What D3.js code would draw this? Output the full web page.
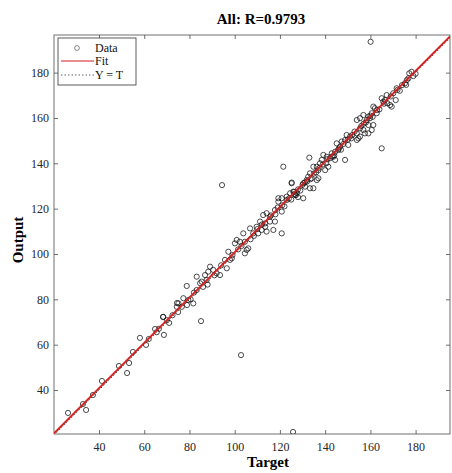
<!DOCTYPE html>
<html>
<head>
<meta charset="utf-8">
<script src="https://cdn.jsdelivr.net/npm/d3@7"></script>
<style>
  body { margin: 0; background: #fff; }
  svg text { font-family: "Liberation Serif", "Times New Roman", serif; }
</style>
</head>
<body>
<div id="chart"></div>
<script>
// regression plot data
const targets = [
  26.3, 32.9, 34.3, 37.3, 41.3, 48.8, 52.4, 53.3, 55.0, 58.1, 60.8, 64.8, 65.5, 68.3, 68.7, 71.0, 74.5, 75.0, 78.9, 85.1,
  68.4, 75.1, 76.6, 74.4, 77.3, 79.5, 81.7, 78.8, 83.2, 84.7, 85.4, 87.6, 86.9, 88.3, 89.1, 90.5, 83.2, 92.0, 93.5, 95.7,
  97.9, 98.7, 96.5, 97.2, 100.1, 100.9, 102.3, 104.5, 106.0, 104.5, 105.3, 103.8, 106.8, 108.2, 109.7, 110.4, 111.9, 114.1, 117.1, 120.8,
  111.2, 113.4, 112.6, 115.6, 115.6, 117.8, 114.1, 117.8, 120.8, 119.3, 123.0, 125.2, 126.2, 127.1, 128.0, 94.4, 102.8,
  119.3, 120.8, 123.0, 124.5, 125.9, 126.7, 125.2, 130.3, 131.1, 130.3, 133.3, 134.8, 131.8, 132.5, 134.0, 133.3, 134.8, 136.3, 136.3, 137.0,
  133.0, 121.5, 137.7, 137.0, 138.5, 140.0, 139.2, 140.7, 141.4, 142.1, 143.6, 142.9, 144.4, 144.4, 145.8, 145.1, 146.6, 148.8, 147.3, 148.8,
  149.5, 151.0, 150.2, 154.0, 154.7, 155.4, 154.0, 155.4, 156.9, 157.6, 159.1, 154.0, 155.4, 156.9, 158.4, 159.8, 159.1, 159.1, 161.3, 160.6,
  161.3, 162.0, 160.6, 162.8, 165.0, 165.7, 166.5, 167.2, 168.7, 171.2, 169.4, 170.1, 171.6, 175.3, 176.1, 176.8, 175.8, 177.2, 178.2, 165.0,
  160.1, 125.8,
  62.0, 66.5, 70.0, 72.5, 80.5, 82.0, 86.0, 88.0, 91.0, 94.0, 99.0, 101.5, 103.0, 107.0, 108.5, 110.0, 112.0, 113.5, 116.0, 118.0,
  119.0, 121.0, 122.0, 124.0, 125.0, 126.5, 127.5, 128.0, 129.0, 130.0, 131.0, 132.0, 133.5, 135.0, 136.0, 137.5, 139.0, 140.5, 141.0, 143.0,
  144.0, 146.0, 147.0, 148.0, 150.0, 151.5, 152.0, 153.0, 156.0, 157.0, 158.0, 160.0, 161.0, 163.0, 164.0, 166.0, 167.5, 169.0, 172.0, 173.0,
  174.0, 179.0, 180.0
];
const outputs = [
  29.9, 33.8, 31.2, 37.8, 44.0, 50.6, 47.5, 51.9, 56.8, 63.0, 59.9, 66.9, 65.5, 72.2, 64.3, 69.6, 78.4, 74.4, 77.5, 70.4,
  72.3, 78.2, 76.7, 76.7, 80.5, 79.7, 78.2, 85.9, 84.1, 87.1, 87.8, 88.5, 90.7, 92.2, 94.4, 93.0, 90.0, 91.5, 90.7, 97.4,
  97.4, 98.1, 93.7, 101.0, 104.7, 106.2, 105.4, 105.4, 102.5, 100.3, 101.8, 109.1, 111.3, 109.1, 112.0, 109.1, 110.6, 109.9, 110.6, 109.1,
  114.3, 113.5, 117.2, 116.5, 114.3, 114.3, 118.0, 119.4, 118.7, 123.1, 123.8, 131.5, 127.4, 126.0, 125.1, 130.4, 55.4,
  124.6, 124.6, 125.3, 126.8, 127.5, 126.0, 131.2, 131.2, 129.7, 124.6, 129.0, 129.0, 132.6, 134.1, 133.4, 135.6, 138.5, 138.5, 132.6, 133.4,
  142.5, 138.5, 140.0, 137.0, 141.5, 137.0, 143.7, 142.9, 138.5, 142.2, 142.9, 144.4, 145.1, 141.5, 145.9, 148.8, 147.3, 141.5, 149.6, 150.3,
  152.5, 151.8, 148.1, 150.3, 151.0, 151.8, 153.2, 155.4, 154.7, 153.2, 153.2, 159.1, 159.9, 161.3, 159.1, 159.9, 160.6, 156.9, 156.9, 154.7,
  165.0, 164.3, 162.1, 162.1, 168.7, 167.2, 167.9, 170.1, 165.7, 167.9, 165.0, 170.9, 173.1, 175.3, 176.7, 177.5, 174.6, 179.7, 180.4, 146.6,
  193.6, 21.5,
  62.5, 67.0, 70.8, 73.0, 80.0, 83.0, 85.5, 86.5, 90.6, 95.0, 99.5, 102.0, 103.5, 106.5, 108.0, 111.0, 113.0, 112.0, 117.0, 117.5,
  120.5, 121.5, 121.0, 124.5, 124.0, 126.5, 127.0, 128.5, 128.0, 130.5, 131.5, 132.0, 133.0, 135.5, 136.0, 138.0, 139.5, 140.0, 141.8, 143.0,
  143.5, 146.5, 146.0, 148.5, 150.5, 151.0, 152.5, 154.0, 156.5, 157.5, 158.0, 161.0, 160.5, 163.5, 163.8, 166.3, 166.5, 169.5, 172.4, 172.0,
  174.5, 178.5, 179.5
];
const ticks = [40, 60, 80, 100, 120, 140, 160, 180];
const fitSlope = 1.0, fitIntercept = 0.8;
const titleText = "All: R=0.9793";
const legendLabels = ["Data", "Fit", "Y = T"];

const width = 452, height = 473;
const plotL = 54, plotR = 450, plotT = 35, plotB = 434;
const xMin = 20.1, xMax = 195.2, yMin = 20.6, yMax = 196.6;

const svg = d3.select("#chart").append("svg")
    .attr("width", width)
    .attr("height", height);

const x = d3.scaleLinear().domain([xMin, xMax]).range([plotL, plotR]);
const y = d3.scaleLinear().domain([yMin, yMax]).range([plotB, plotT]);

const axisColor = "#4d4d4d";
const tickLen = 4;

// axes box ticks
const xAxis = svg.append("g")
    .attr("transform", `translate(0,${plotB})`)
    .call(d3.axisBottom(x).tickValues(ticks).tickSize(-tickLen).tickPadding(8));
const xAxisTop = svg.append("g")
    .attr("transform", `translate(0,${plotT})`)
    .call(d3.axisTop(x).tickValues(ticks).tickSize(-tickLen).tickFormat(""));
const yAxis = svg.append("g")
    .attr("transform", `translate(${plotL},0)`)
    .call(d3.axisLeft(y).tickValues(ticks).tickSize(-tickLen).tickPadding(5));
const yAxisRight = svg.append("g")
    .attr("transform", `translate(${plotR},0)`)
    .call(d3.axisRight(y).tickValues(ticks).tickSize(-tickLen).tickFormat(""));

[xAxis, xAxisTop, yAxis, yAxisRight].forEach(g => {
  g.select(".domain").remove();
  g.selectAll("line").attr("stroke", axisColor).attr("stroke-width", 0.8);
  g.selectAll("text")
    .attr("fill", "#262626")
    .style("font-family", "'Liberation Serif', serif")
    .style("font-size", "12px");
});

svg.append("rect")
    .attr("x", plotL).attr("y", plotT)
    .attr("width", plotR - plotL).attr("height", plotB - plotT)
    .attr("fill", "none")
    .attr("stroke", axisColor)
    .attr("stroke-width", 0.8);

svg.append("clipPath").attr("id", "plotclip")
  .append("rect")
    .attr("x", plotL).attr("y", plotT)
    .attr("width", plotR - plotL).attr("height", plotB - plotT);

const plot = svg.append("g").attr("clip-path", "url(#plotclip)");

// data points
const pts = targets.map((t, i) => ({ t: t, o: outputs[i] }));
plot.selectAll("circle")
  .data(pts)
  .join("circle")
    .attr("cx", d => x(d.t))
    .attr("cy", d => y(d.o))
    .attr("r", 2.6)
    .attr("fill", "none")
    .attr("stroke", "#111")
    .attr("stroke-width", 0.75);

// Y = T line
plot.append("line")
    .attr("x1", x(xMin)).attr("y1", y(xMin))
    .attr("x2", x(xMax)).attr("y2", y(xMax))
    .attr("stroke", "#444")
    .attr("stroke-width", 1)
    .attr("stroke-dasharray", "1.5,2");

// fit line
plot.append("line")
    .attr("x1", x(xMin)).attr("y1", y(fitSlope * xMin + fitIntercept))
    .attr("x2", x(xMax)).attr("y2", y(fitSlope * xMax + fitIntercept))
    .attr("stroke", "#d41f1f")
    .attr("stroke-width", 1.8);

// title and labels
svg.append("text")
    .attr("x", 261).attr("y", 24)
    .attr("text-anchor", "middle")
    .style("font-size", "15px")
    .style("font-weight", "bold")
    .attr("fill", "#000")
    .text(titleText);

svg.append("text")
    .attr("x", 268).attr("y", 467)
    .attr("text-anchor", "middle")
    .style("font-size", "15px")
    .style("font-weight", "bold")
    .text("Target");

svg.append("text")
    .attr("transform", "translate(23,240) rotate(-90)")
    .attr("text-anchor", "middle")
    .style("font-size", "15px")
    .style("font-weight", "bold")
    .text("Output");

// legend
const lg = svg.append("g");
lg.append("rect")
    .attr("x", 58).attr("y", 38)
    .attr("width", 78).attr("height", 47)
    .attr("fill", "#fff")
    .attr("stroke", "#333")
    .attr("stroke-width", 0.8);

const rowY = [48, 61, 75];
lg.append("circle")
    .attr("cx", 77).attr("cy", rowY[0])
    .attr("r", 2.4)
    .attr("fill", "none")
    .attr("stroke", "#555")
    .attr("stroke-width", 0.7);
lg.append("line")
    .attr("x1", 61).attr("x2", 94)
    .attr("y1", rowY[1]).attr("y2", rowY[1])
    .attr("stroke", "#d41f1f").attr("stroke-width", 1.2);
lg.append("line")
    .attr("x1", 61).attr("x2", 94)
    .attr("y1", rowY[2]).attr("y2", rowY[2])
    .attr("stroke", "#666").attr("stroke-width", 1)
    .attr("stroke-dasharray", "1.5,2");

lg.selectAll("text.lab")
  .data(legendLabels)
  .join("text")
    .attr("class", "lab")
    .attr("x", 95)
    .attr("y", (d, i) => rowY[i] + 4)
    .style("font-size", "12px")
    .attr("fill", "#111")
    .text(d => d);
</script>
</body>
</html>
